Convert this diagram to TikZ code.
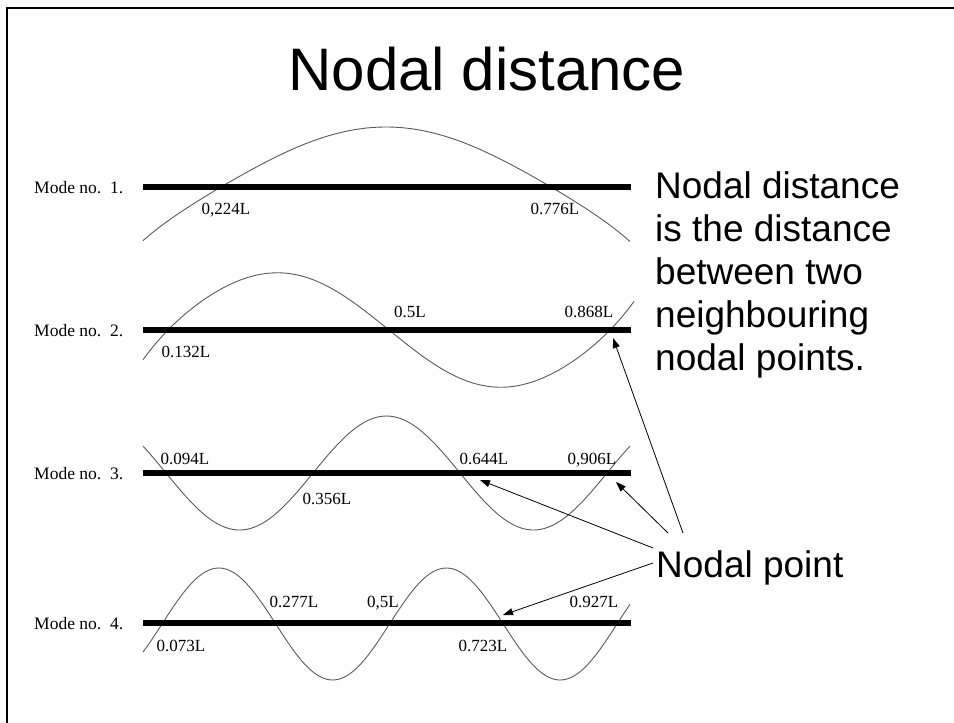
\documentclass[tikz,border=0pt]{standalone}
\usepackage{fontspec}
\setmainfont{Liberation Serif}
\newfontfamily\arial{Liberation Sans}
\usetikzlibrary{arrows.meta}

\tikzset{
  beam/.style={line width=6.5pt},
  wave/.style={line width=0.9pt, black!65, smooth},
  spot/.style={font=\fontsize{17}{17}\selectfont, inner sep=0pt},
  mode/.style={font=\fontsize{17.5}{17.5}\selectfont, anchor=west, inner sep=0pt},
  pointer/.style={-{Triangle[length=10pt,width=7pt]}, line width=0.8pt},
}

\begin{document}
\begin{tikzpicture}[x=1pt,y=-1pt]
      \useasboundingbox (0,0) rectangle (954,723);
      \draw[line width=2.3pt] (7,723) -- (7,8) -- (954,8);

      \node(title) at (487,90) [anchor=base, inner sep=0pt, font=\arial\fontsize{60}{60}\selectfont] {Nodal distance};

      \draw[wave] plot[domain=143:630, samples=80] (\x, {187-60*sin((\x-221)/330*180)*(1+0.33*pow(abs((\x-386)/244),6))});
      \draw[wave] plot[domain=143:634, samples=80] (\x, {330-57*sin((\x-168)/221*180)*(1+0.5*pow(abs((\x-388.5)/245.5),6))});
      \draw[wave] plot[domain=143:630, samples=90] (\x, {473+57*sin((\x-166)/147*180)});
      \draw[wave] plot[domain=143:630, samples=110] (\x, {624-56*sin((\x-162)/113.75*180)});

      \draw[beam] (143,187) -- (631,187);
      \draw[beam] (143,330) -- (631,330);
      \draw[beam] (143,473) -- (631,473);
      \draw[beam] (143,623) -- (631,623);

      \node(mode1) at (34,188) [mode] {Mode no.\ \ 1.};
      \node(mode2) at (34,331) [mode] {Mode no.\ \ 2.};
      \node(mode3) at (34,474) [mode] {Mode no.\ \ 3.};
      \node(mode4) at (34,624) [mode] {Mode no.\ \ 4.};

      \node(p224) at (226,210) [spot] {0,224L};
      \node(p776) at (555,209) [spot] {0.776L};

      \node(p132) at (186,352) [spot] {0.132L};
      \node(p500) at (410,312) [spot] {0.5L};
      \node(p868) at (589,312) [spot] {0.868L};

      \node(p094) at (185,459) [spot] {0.094L};
      \node(p356) at (327,499) [spot] {0.356L};
      \node(p644) at (484,459) [spot] {0.644L};
      \node(p906) at (592,460) [spot] {0,906L};

      \node(p277) at (294,602) [spot] {0.277L};
      \node(p5)   at (383,603) [spot] {0,5L};
      \node(p927) at (594,602) [spot] {0.927L};
      \node(p073) at (181,646) [spot] {0.073L};
      \node(p723) at (483,646) [spot] {0.723L};

      \node(def) at (655,171) [anchor=north west, align=left, inner sep=0pt,
        font=\arial\fontsize{37}{43}\selectfont]
        {Nodal distance\\is the distance\\between two\\neighbouring\\nodal points.};

      \node(point) at (656,577) [anchor=base west, inner sep=0pt, font=\arial\fontsize{37}{37}\selectfont] {Nodal point};

      \coordinate (n2c) at (613,338);
      \coordinate (n3b) at (480,480);
      \coordinate (n3c) at (616,482);
      \coordinate (n4c) at (503,615);

      \draw[pointer] ([xshift=27pt,yshift=17pt]point.north west) -- (n2c);
      \draw[pointer] ([xshift=12pt,yshift=17pt]point.north west) -- (n3c);
      \draw[pointer] ([xshift=-3pt,yshift=2pt]point.north west) -- (n3b);
      \draw[pointer] ([xshift=-3pt,yshift=-13pt]point.north west) -- (n4c);
\end{tikzpicture}
\end{document}
